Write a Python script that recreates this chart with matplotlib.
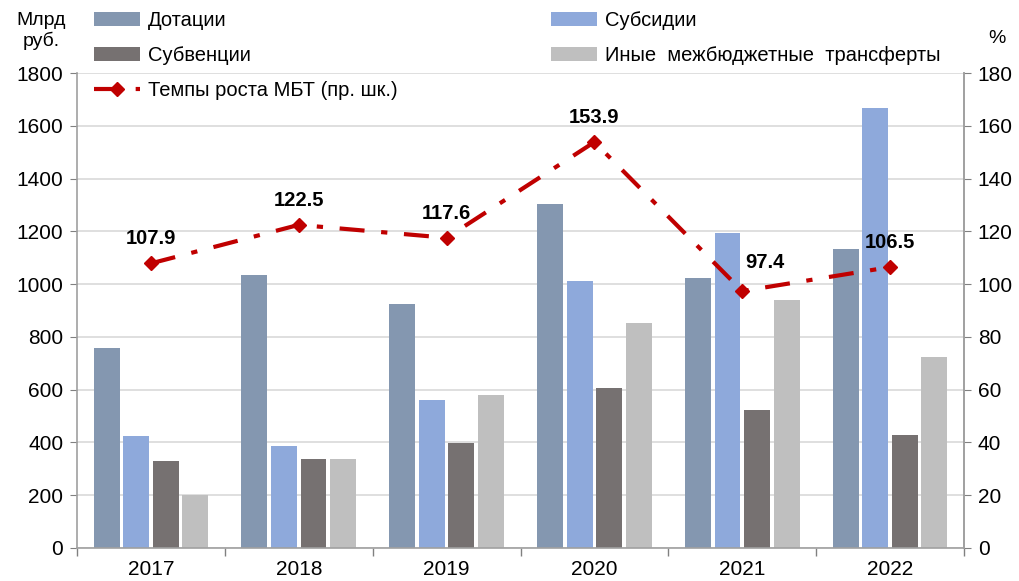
import numpy as np
import matplotlib.pyplot as plt

plt.rcParams['font.family'] = ['Liberation Sans', 'DejaVu Sans']

years = ["2017", "2018", "2019", "2020", "2021", "2022"]
dotacii = [760, 1034, 925, 1303, 1023, 1133]
subsidii = [424, 386, 561, 1012, 1194, 1667]
subvencii = [330, 337, 398, 606, 523, 428]
inye = [201, 337, 580, 853, 940, 724]
tempy = [107.9, 122.5, 117.6, 153.9, 97.4, 106.5]

series = [
    ("Дотации", dotacii, "#8497B0"),
    ("Субсидии", subsidii, "#8EA9DB"),
    ("Субвенции", subvencii, "#767171"),
    ("Иные  межбюджетные  трансферты", inye, "#BFBFBF"),
]

fig = plt.figure(figsize=(10.19, 5.81), dpi=100)
ax = fig.add_axes([0.0756, 0.0568, 0.8704, 0.8172])
x = np.arange(len(years))
step = 0.2
width = 0.175
bars = {}
for i, (name, vals, col) in enumerate(series):
    bars[name] = ax.bar(x + (i - 1.5) * step, vals, width, color=col, zorder=2, label=name)

ax.set_xlim(-0.5, len(years) - 0.5)
ax.set_ylim(0, 1800)
ax.set_yticks(np.arange(0, 1801, 200))
ax.grid(axis="y", color="#D9D9D9", linewidth=1.2, zorder=0)
ax.set_xticks(x)
ax.set_xticklabels(years, fontsize=15)
ax.set_xticks(np.arange(-0.5, len(years), 1), minor=True)
ax.tick_params(axis="x", which="major", length=0, pad=9)
ax.tick_params(axis="x", which="minor", length=6, color="#808080", width=1)
ax.tick_params(axis="y", labelsize=15, length=5, color="#808080", pad=5)
ax.spines["top"].set_visible(False)
for s in ["left", "right", "bottom"]:
    ax.spines[s].set_color("#A0A0A0")
    ax.spines[s].set_linewidth(1.2)

ax2 = ax.twinx()
ax2.set_ylim(0, 180)
ax2.set_yticks(np.arange(0, 181, 20))
ax2.tick_params(axis="y", labelsize=15, length=5, color="#808080", pad=5)
for s in ["top", "left", "bottom"]:
    ax2.spines[s].set_visible(False)
ax2.spines["right"].set_color("#A0A0A0")
ax2.spines["right"].set_linewidth(1.2)

line, = ax2.plot(x, tempy, color="#C00000", linewidth=3, marker="D", markersize=7,
                 dashes=(6, 4, 1.5, 4), zorder=5, label="Темпы роста МБТ (пр. шк.)")
offsets = [(0, 11), (0, 11), (0, 11), (0, 11), (16, 14), (0, 11)]
for xi, v, off in zip(x, tempy, offsets):
    ax2.annotate(f"{v:.1f}", (xi, v), xytext=off, textcoords="offset points",
                 ha="center", va="bottom", fontsize=14.5, fontweight="bold")

handles = [bars["Дотации"], bars["Субвенции"], line, bars["Субсидии"], bars["Иные  межбюджетные  трансферты"]]
labels = [h.get_label() for h in handles]
fig.legend(handles, labels, ncol=2, loc="upper left", bbox_to_anchor=(0.074, 1.012),
           frameon=False, fontsize=14.5, handlelength=2.3, handleheight=0.7,
           columnspacing=7.6, labelspacing=0.78, handletextpad=0.4)

fig.text(0.040, 0.947, "Млрд\nруб.", ha="center", va="center", fontsize=14, linespacing=1.2)
fig.text(0.978, 0.933, "%", ha="center", va="center", fontsize=14)

fig.savefig("out.png", dpi=100)
